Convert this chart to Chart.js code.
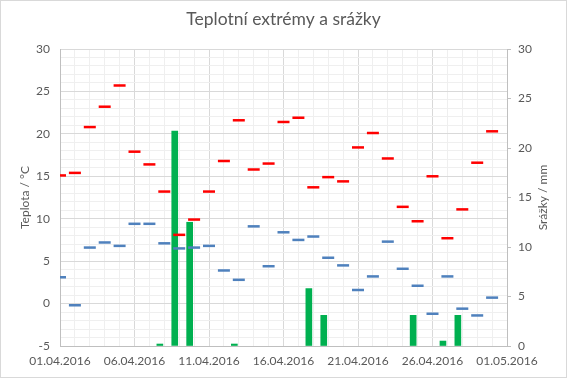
<!DOCTYPE html>
<html>
<head>
<meta charset="utf-8">
<script src="https://cdn.jsdelivr.net/npm/chart.js@4"></script>
<style>
  html, body { margin: 0; padding: 0; background: #fff; }
  #wrap { width: 567px; height: 378px; position: relative; }
</style>
</head>
<body>
<div id="wrap"><canvas id="chart"></canvas></div>
<script>
// dny v dubnu 2016
var days = ['01.04.2016', '02.04.2016', '03.04.2016', '04.04.2016', '05.04.2016',
  '06.04.2016', '07.04.2016', '08.04.2016', '09.04.2016', '10.04.2016',
  '11.04.2016', '12.04.2016', '13.04.2016', '14.04.2016', '15.04.2016',
  '16.04.2016', '17.04.2016', '18.04.2016', '19.04.2016', '20.04.2016',
  '21.04.2016', '22.04.2016', '23.04.2016', '24.04.2016', '25.04.2016',
  '26.04.2016', '27.04.2016', '28.04.2016', '29.04.2016', '30.04.2016']

var xTickLabels = ['01.04.2016', '06.04.2016', '11.04.2016', '16.04.2016', '21.04.2016', '26.04.2016', '01.05.2016']

// teploty (°C)
var tMax = [15.1, 15.4, 20.8, 23.2, 25.7, 17.9, 16.4, 13.2, 8.1, 9.9,
  13.2, 16.8, 21.6, 15.8, 16.5, 21.4, 21.9, 13.7, 14.9, 14.4,
  18.4, 20.1, 17.1, 11.4, 9.7, 15.0, 7.7, 11.1, 16.6, 20.3]
var tMin = [3.1, -0.2, 6.6, 7.2, 6.8, 9.4, 9.4, 7.1, 6.5, 6.6,
  6.8, 3.9, 2.8, 9.1, 4.4, 8.4, 7.5, 7.9, 5.4, 4.5,
  1.6, 3.2, 7.3, 4.1, 2.1, -1.2, 3.2, -0.6, -1.4, 0.7]

// srážky (mm)
var srazky = [0, 0, 0, 0, 0, 0, 0.2, 21.7, 12.5, 0,
  0, 0.2, 0, 0, 0, 0, 5.8, 3.1, 0, 0,
  0, 0, 0, 3.1, 0, 0.5, 3.1, 0, 0, 0]

var fontFam = 'Lato, Calibri, sans-serif'
var textCol = '#595959'

function pts(arr) {
  return arr.map(function (v, i) { return { x: i, y: v } })
}

// pozadí, rámeček a titulek pravé osy (čte se zdola nahoru jako v Excelu)
var decor = {
  id: 'decor',
  beforeDraw: function (chart) {
    var ctx = chart.ctx
    ctx.save()
    ctx.fillStyle = '#fff'
    ctx.fillRect(0, 0, chart.width, chart.height)
    ctx.restore()
  },
  afterDraw: function (chart) {
    var ctx = chart.ctx
    var a = chart.chartArea
    ctx.save()
    ctx.strokeStyle = '#d9d9d9'
    ctx.lineWidth = 1
    ctx.strokeRect(0.5, 0.5, chart.width - 1, chart.height - 1)
    ctx.translate(543, (a.top + a.bottom) / 2)
    ctx.rotate(-Math.PI / 2)
    ctx.fillStyle = textCol
    ctx.font = '12px ' + fontFam
    ctx.textAlign = 'center'
    ctx.textBaseline = 'middle'
    ctx.fillText('Srážky / mm', 0, 0)
    ctx.restore()
  }
}

var chart = new Chart(document.getElementById('chart'), {
  data: {
    datasets: [
      {
        type: 'scatter',
        label: 'Max',
        data: pts(tMax),
        xAxisID: 'x',
        yAxisID: 'y',
        pointStyle: 'line',
        pointRadius: 6,
        pointBorderWidth: 2.5,
        borderColor: '#ff0000',
        backgroundColor: '#ff0000',
        order: 1
      },
      {
        type: 'scatter',
        label: 'Min',
        data: pts(tMin),
        xAxisID: 'x',
        yAxisID: 'y',
        pointStyle: 'line',
        pointRadius: 6,
        pointBorderWidth: 2.5,
        borderColor: '#4f81bd',
        backgroundColor: '#4f81bd',
        order: 2
      },
      {
        type: 'bar',
        label: 'Srážky',
        // nulové dny se nekreslí
        data: srazky.map(function (v) { return v > 0 ? v : null }),
        xAxisID: 'x2',
        yAxisID: 'y2',
        backgroundColor: '#00b050',
        borderWidth: 0,
        barThickness: 6,
        order: 3
      }
    ]
  },
  options: {
    responsive: true,
    maintainAspectRatio: false,
    animation: false,
    events: [],
    layout: { padding: 0 },
    plugins: {
      legend: { display: false },
      tooltip: { enabled: false },
      title: {
        display: true,
        text: 'Teplotní extrémy a srážky',
        color: textCol,
        font: { family: fontFam, size: 17.5, weight: 'normal', lineHeight: 1.2 },
        padding: { top: 9, bottom: 19 }
      }
    },
    scales: {
      x: {
        type: 'linear',
        position: 'bottom',
        min: 0,
        max: 30,
        offset: false,
        afterFit: function (s) { s.height = 32 },
        ticks: {
          stepSize: 1,
          autoSkip: false,
          maxRotation: 0,
          padding: 8,
          color: textCol,
          font: { family: fontFam, size: 12 },
          callback: function (v) { return v % 5 === 0 ? xTickLabels[v / 5] : '' }
        },
        grid: {
          drawTicks: false,
          color: function (c) { return c.tick && c.tick.value % 5 === 0 ? '#d9d9d9' : '#efefef' }
        },
        border: { color: '#bfbfbf' }
      },
      x2: {
        type: 'category',
        labels: days,
        offset: true,
        display: false
      },
      y: {
        position: 'left',
        min: -5,
        max: 30,
        afterFit: function (s) { s.width = 60 },
        ticks: {
          stepSize: 1,
          autoSkip: false,
          padding: 10,
          color: textCol,
          font: { family: fontFam, size: 12 },
          callback: function (v) { return v % 5 === 0 ? v : '' }
        },
        grid: {
          drawTicks: false,
          color: function (c) { return c.tick && c.tick.value % 5 === 0 ? '#d9d9d9' : '#efefef' }
        },
        border: { color: '#bfbfbf' },
        title: {
          display: true,
          text: 'Teplota / °C',
          color: textCol,
          font: { family: fontFam, size: 12 },
          padding: { top: 18, bottom: 0 }
        }
      },
      y2: {
        position: 'right',
        min: 0,
        max: 30,
        afterFit: function (s) { s.width = 60 },
        ticks: {
          stepSize: 5,
          padding: 7,
          color: textCol,
          font: { family: fontFam, size: 12 }
        },
        grid: {
          drawOnChartArea: false,
          drawTicks: true,
          tickLength: 4,
          color: '#bfbfbf'
        },
        border: { color: '#bfbfbf' }
      }
    }
  },
  plugins: [decor]
})
</script>
</body>
</html>
